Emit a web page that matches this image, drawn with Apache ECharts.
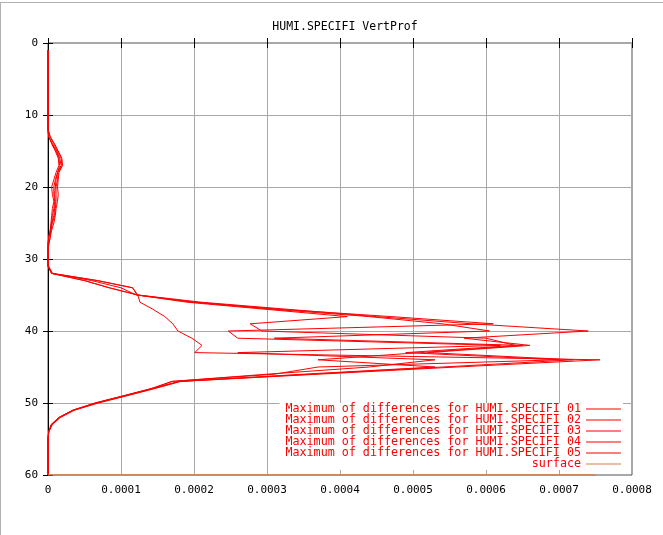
<!DOCTYPE html>
<html><head><meta charset="utf-8">
<script src="https://cdn.jsdelivr.net/npm/echarts@6/dist/echarts.min.js"></script>
<style>
html,body{margin:0;padding:0;background:#fff;}
#frame{position:absolute;left:0;top:2px;width:663px;height:533px;border-left:1px solid #b0b0b0;border-top:1px solid #b0b0b0;box-sizing:border-box;}
#c{position:absolute;left:0;top:0;width:663px;height:535px;}
</style></head>
<body>
<div id="frame"></div>
<div id="c"></div>
<script>
const levels = [1,2,3,4,5,6,7,8,9,10,11,12,13,14,15,16,17,18,19,20,21,22,23,24,25,26,27,28,29,30,31,32,33,34,35,36,37,38,39,40,41,42,43,44,45,46,47,48,49,50,51,52,53,54,55,56,57,58,59,60];
const seriesNames = ['Maximum of differences for HUMI.SPECIFI 01','Maximum of differences for HUMI.SPECIFI 02','Maximum of differences for HUMI.SPECIFI 03','Maximum of differences for HUMI.SPECIFI 04','Maximum of differences for HUMI.SPECIFI 05'];
const xTicks = ['0','0.0001','0.0002','0.0003','0.0004','0.0005','0.0006','0.0007','0.0008'];
const yTicks = ['0','10','20','30','40','50','60'];
// values per level 1..60
const s01 = [0,0,0,0,0,0,0,0,0,0,0,0,0.000003,0.000009,0.000014,0.000019,0.00002,0.000015,0.000014,0.000013,0.000014,0.000013,0.000011,0.00001,0.000008,0.000005,0.000003,0.000001,0,0,0.000001,0.000006,0.000068,0.000116,0.000123,0.00021,0.00033,0.00045,0.00058,0.00074,0.00057,0.00066,0.00052,0.00072,0.00054,0.00036,0.00018,0.000144,0.000106,0.000067,0.000035,0.000016,0.000005,0.000001,0,0,0,0,0,0];
const s02 = [0,0,0,0,0,0,0,0,0,0,0,0,0.000001,0.000006,0.000012,0.000016,0.000018,0.000013,0.000011,0.00001,0.000009,0.00001,0.000009,0.000008,0.000005,0.000004,0.000001,0,0,0,0,0.000005,0.00005,0.000084,0.000123,0.0002,0.00031,0.00044,0.00054,0.000605,0.00031,0.00065,0.00051,0.00037,0.00053,0.00035,0.00018,0.000142,0.000104,0.000065,0.000034,0.000015,0.000005,0.000001,0,0,0,0,0,0];
const s03 = [0,0,0,0,0,0,0,0,0,0,0,0,0.000001,0.000005,0.00001,0.000014,0.000015,0.000011,0.000008,0.000005,0.000006,0.000008,0.000006,0.000005,0.000004,0.000003,0.000001,0,0,0,0,0.000005,0.00005,0.000084,0.000123,0.000126,0.000144,0.00016,0.000171,0.000178,0.000197,0.000211,0.000201,0.000756,0.00056,0.00037,0.000182,0.000146,0.000108,0.000069,0.000036,0.000017,0.000006,0.000001,0,0,0,0,0,0];
const s04 = [0,0,0,0,0,0,0,0,0,0,0,0,0.000003,0.000008,0.000013,0.000018,0.000019,0.000014,0.000013,0.000011,0.000011,0.000011,0.00001,0.000009,0.000006,0.000004,0.000003,0.000001,0,0,0,0.000006,0.000068,0.000116,0.000122,0.00019,0.0003,0.00041,0.000277,0.000293,0.0006,0.00064,0.00049,0.0007,0.00037,0.00031,0.00017,0.000143,0.000105,0.000066,0.000035,0.000016,0.000005,0.000001,0,0,0,0,0,0];
const s05 = [0,0,0,0,0,0,0,0,0,0,0,0,0.000001,0.000006,0.000011,0.000015,0.000016,0.000013,0.00001,0.000008,0.000008,0.000009,0.000008,0.000006,0.000005,0.000003,0.000001,0,0,0,0,0.000005,0.00006,0.0001,0.000121,0.0002,0.00032,0.00047,0.00061,0.000247,0.00026,0.00062,0.00026,0.00053,0.00044,0.0003,0.00017,0.000141,0.000103,0.000064,0.000034,0.000015,0.000004,0.000001,0,0,0,0,0,0];
const surfaceX = [0, 0.00075];
const surfaceY = [60, 60];

const allVals = [s01, s02, s03, s04, s05];
const FONT = 'DejaVu Sans Mono';
const chart = echarts.init(document.getElementById('c'), null, {renderer:'canvas'});
const series = allVals.map((vals, i) => ({
  name: seriesNames[i], type: 'line', symbol: 'none', showSymbol: false,
  data: vals.map((v, k) => [v, levels[k]]),
  lineStyle: {color: '#ff0000', width: 1}, itemStyle: {color: '#ff0000'},
  animation: false, z: 3
}));
series.push({
  name: 'surface', type: 'line', symbol: 'none', showSymbol: false,
  data: surfaceX.map((v, k) => [v, surfaceY[k]]),
  lineStyle: {color: '#d87c48', width: 1.5}, itemStyle: {color: '#d87c48'},
  animation: false, z: 10
});
const tickStyle = {show: true, inside: true, length: 5, lineStyle: {color: '#000'}};
chart.setOption({
  animation: false,
  backgroundColor: 'transparent',
  title: {text: 'HUMI.SPECIFI VertProf', left: 340, textAlign: 'center', top: 16,
    textStyle: {fontFamily: FONT, fontSize: 11.5, fontWeight: 'normal', color: '#000'}},
  grid: {left: 48, right: 31, top: 43, bottom: 60, show: true, borderColor: '#505050', borderWidth: 1},
  legend: {
    data: seriesNames.concat(['surface']),
    orient: 'vertical', right: 40, top: 403, align: 'right',
    itemWidth: 35, itemHeight: 6, itemGap: -1, icon: 'path://M0,3 L35,3 L35,4 L0,4 Z',
    backgroundColor: '#fff', padding: [0, 2, 0, 6],
    textStyle: {fontFamily: FONT, fontSize: 11.7, color: '#ff0000', padding: [0, 0, 0, 0]},
    selectedMode: false, z: 5
  },
  xAxis: [{
    type: 'value', min: 0, max: 0.0008, interval: 0.0001,
    axisLine: {show: false},
    axisTick: tickStyle,
    axisLabel: {fontFamily: FONT, fontSize: 11, color: '#000', margin: 10,
      formatter: (v) => xTicks[Math.round(v / 0.0001)]},
    splitLine: {show: true, lineStyle: {color: '#a8a8a8', width: 1}}
  }, {
    type: 'value', position: 'top', min: 0, max: 0.0008, interval: 0.0001,
    axisLine: {show: false}, axisTick: tickStyle, axisLabel: {show: false}, splitLine: {show: false}
  }],
  yAxis: [{
    type: 'value', inverse: true, min: 0, max: 60, interval: 10,
    axisLine: {show: true, lineStyle: {color: '#000'}},
    axisTick: tickStyle,
    axisLabel: {fontFamily: FONT, fontSize: 11, color: '#000', margin: 10,
      formatter: (v) => yTicks[Math.round(v / 10)]},
    splitLine: {show: true, lineStyle: {color: '#a8a8a8', width: 1}}
  }, {
    type: 'value', position: 'right', inverse: true, min: 0, max: 60, interval: 10,
    axisLine: {show: false}, axisTick: tickStyle, axisLabel: {show: false}, splitLine: {show: false}
  }],
  series: series
});
</script>
</body></html>
